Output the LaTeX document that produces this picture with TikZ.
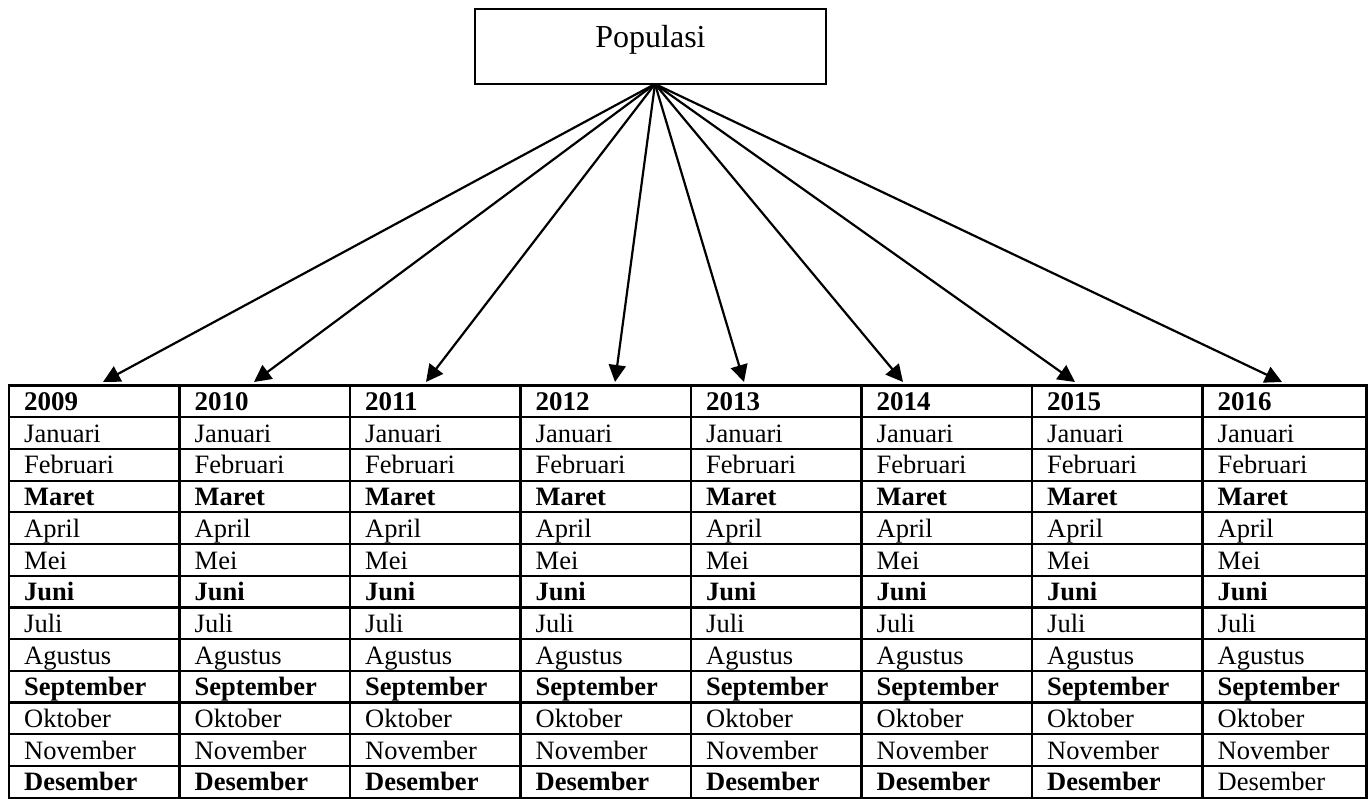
\documentclass[tikz,border=0pt]{standalone}
\usepackage{fontspec}
\setmainfont{Liberation Serif}
\usetikzlibrary{arrows.meta}
\begin{document}
\begin{tikzpicture}[x=1pt,y=-1pt,
  tbl/.style={line width=2.2pt, line cap=rect},
  arr/.style={line width=2.2pt, -{Triangle[length=17pt,width=17pt]}},
  cell/.style={anchor=base west, inner sep=0pt, font=\fontsize{26.5}{30}\selectfont}]
\useasboundingbox (0,0) rectangle (1368,799);
% Populasi box
\node[draw, line width=1.3pt, minimum width=351pt, minimum height=75pt, inner sep=0pt] (pop) at (650.5,46.5) {};
\node[anchor=base, inner sep=0pt, font=\fontsize{32}{36}\selectfont] (poptext) at (650.5,48) {Populasi};
\coordinate (src) at (655,84);
% arrow tips
\coordinate (t1) at (103,382);
\coordinate (t2) at (254,382);
\coordinate (t3) at (426,382);
\coordinate (t4) at (615,382);
\coordinate (t5) at (744,382);
\coordinate (t6) at (903,382);
\coordinate (t7) at (1075,382);
\coordinate (t8) at (1282,382);
\foreach \i in {1,...,8} \draw[arr] (src) -- (t\i);
% table grid
\foreach \r in {0,...,13} \draw[tbl] (9,{385.5+\r*31.7}) -- (1366.5,{385.5+\r*31.7});
\foreach \k in {0,...,7} \draw[tbl] ({9+\k*170.5},385.5) -- ({9+\k*170.5},797.6);
\draw[tbl] (1366.5,385.5) -- (1366.5,797.6);
% headers
\foreach \y [count=\c] in {2009,2010,2011,2012,2013,2014,2015,2016}
  \node[cell, font=\fontsize{27}{30}\selectfont\bfseries] (h\c) at ({9+(\c-1)*170.5+15}, 410.5) {\y};
% months
\foreach \c in {1,...,8}{
  \foreach \m/\b [count=\r] in {Januari/0,Februari/0,Maret/1,April/0,Mei/0,Juni/1,Juli/0,Agustus/0,September/1,Oktober/0,November/0,Desember/1}{
    \pgfmathtruncatemacro\bb{\b*(1-(\c==8)*(\r==12))}
    \node[cell] (m\c-\r) at ({9+(\c-1)*170.5+15}, {385.5+\r*31.7+25}) {\ifnum\bb=1 \bfseries\fi\m};
  }
}
\end{tikzpicture}
\end{document}
